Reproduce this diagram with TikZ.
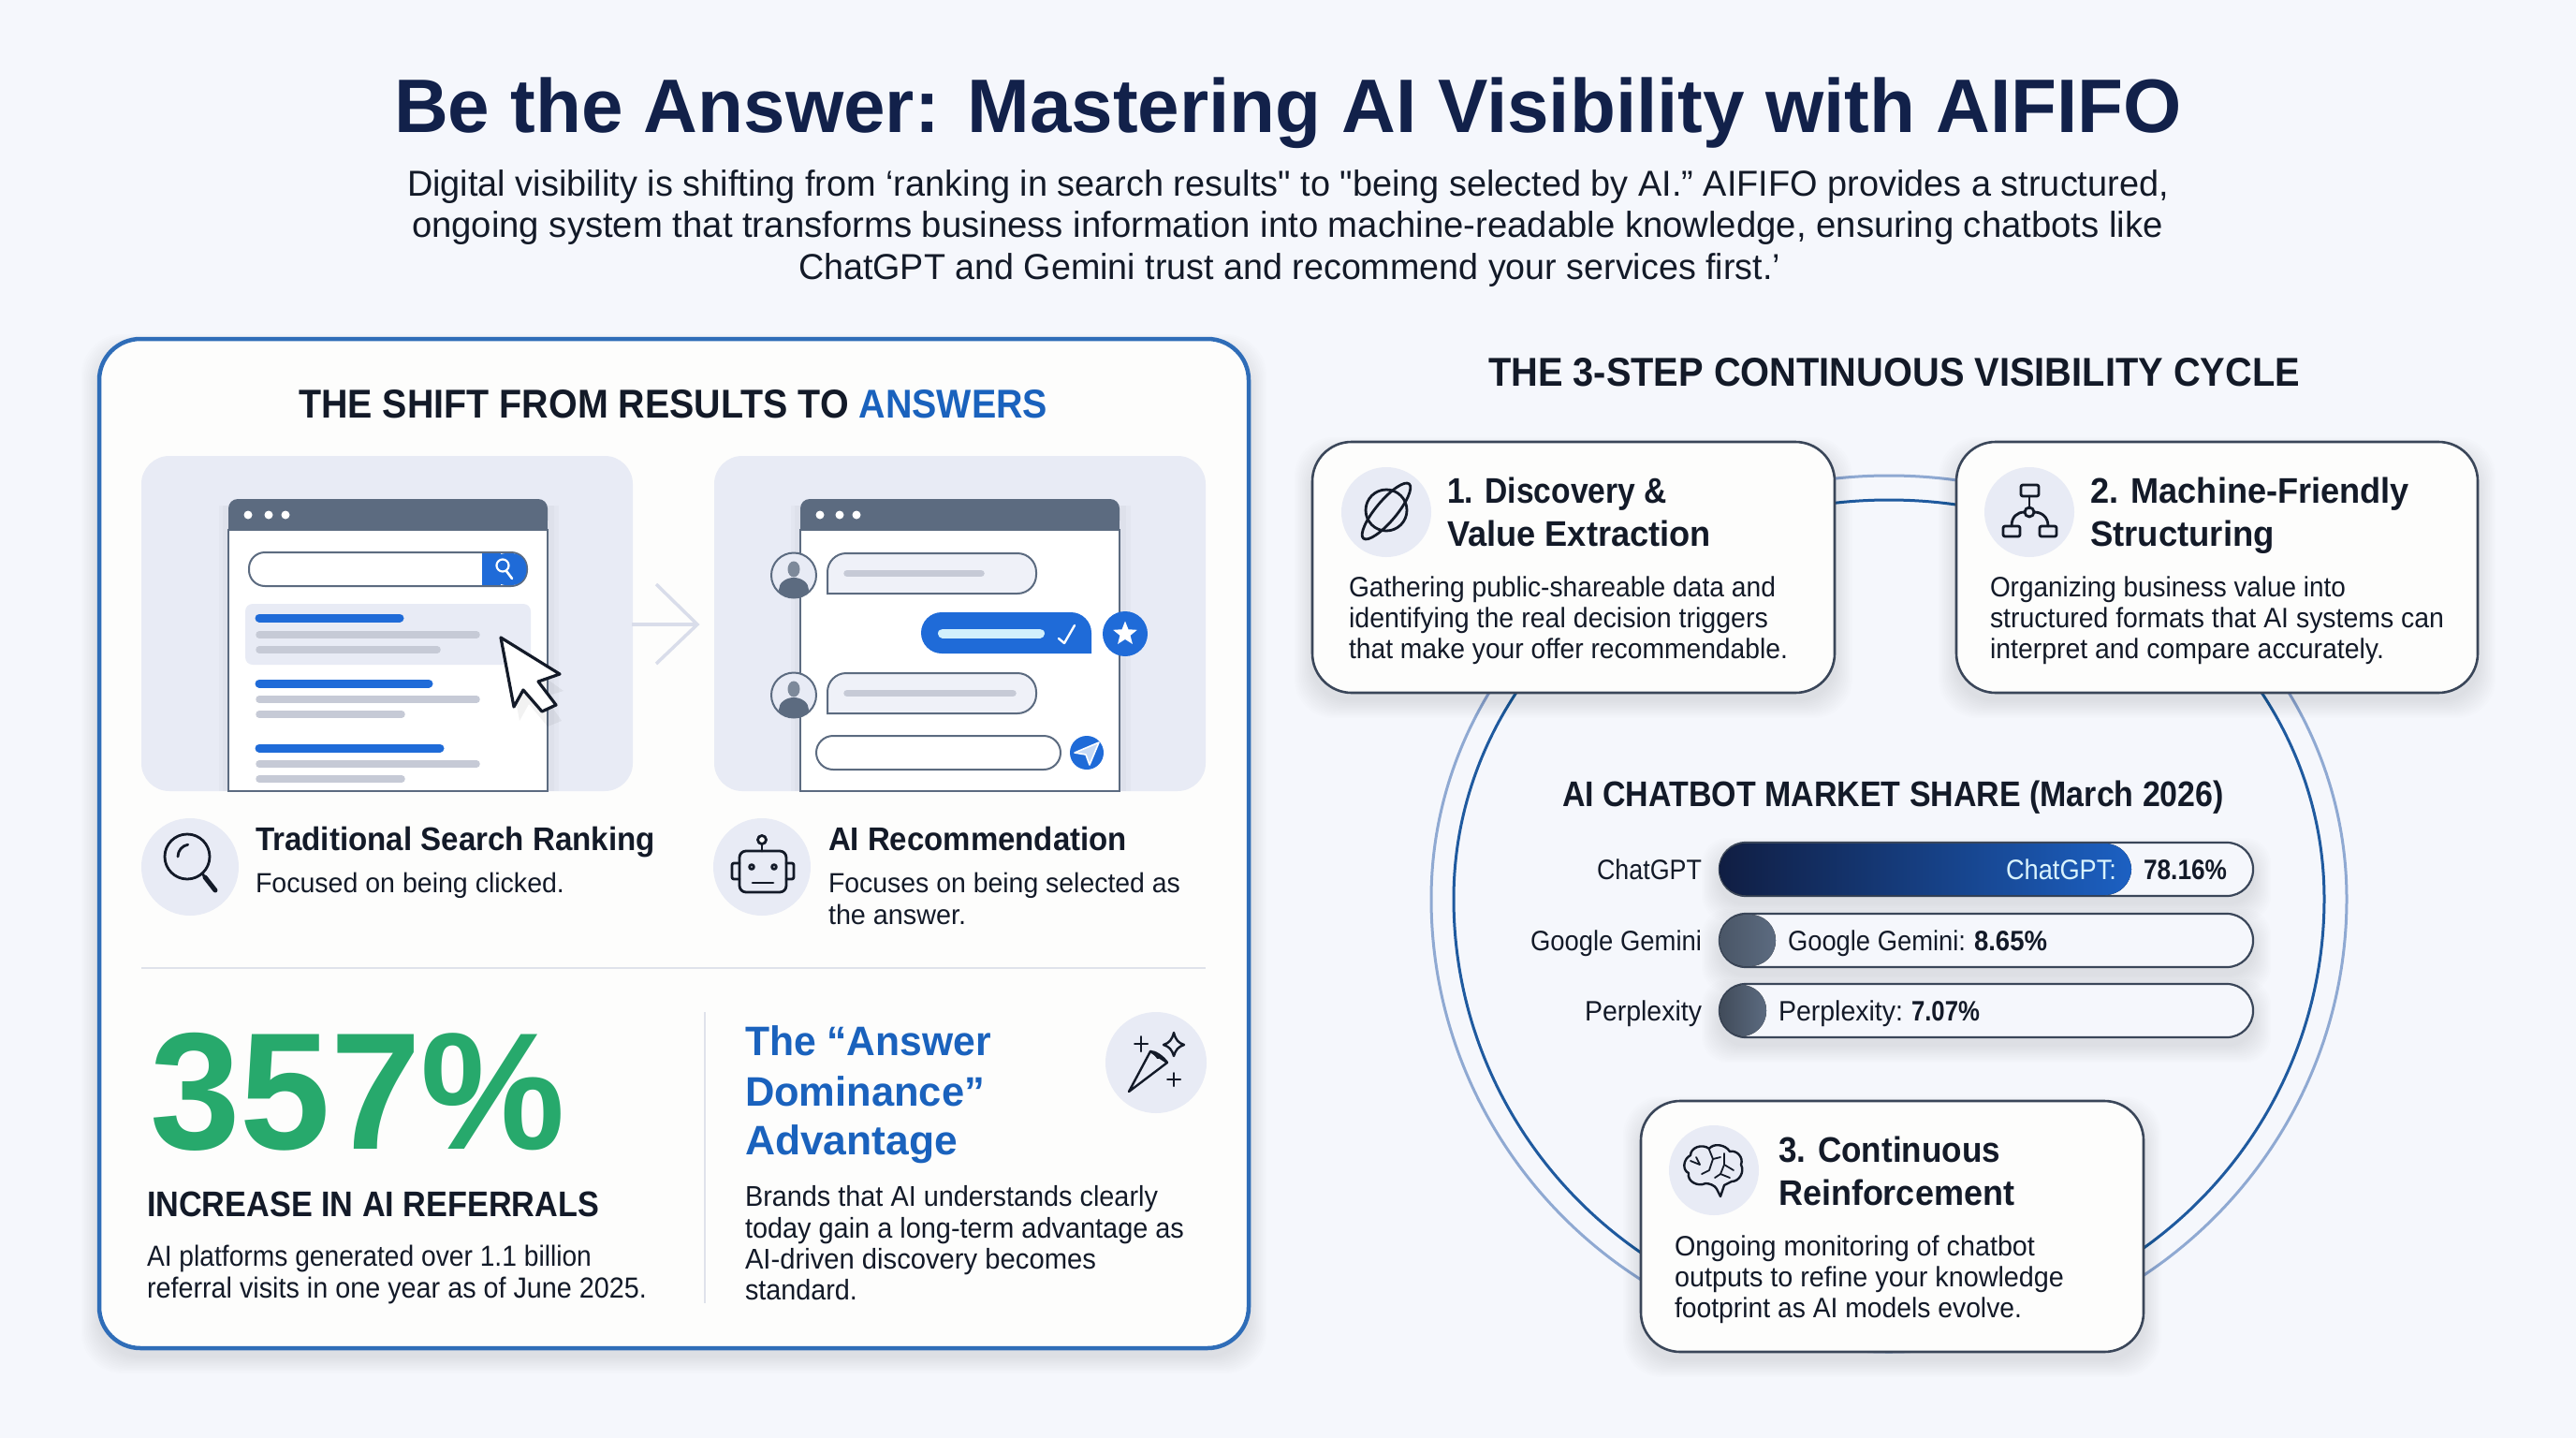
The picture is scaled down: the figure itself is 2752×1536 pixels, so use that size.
\documentclass[tikz,border=0pt]{standalone}
\usepackage{graphicx}
\usepackage{fontspec}
\setmainfont{Liberation Sans}
\newfontfamily\plainq{Liberation Sans}
\usetikzlibrary{shapes.geometric}
\definecolor{bgc}{HTML}{F5F7FC}
\definecolor{navy}{HTML}{12214A}
\definecolor{ink}{HTML}{131A28}
\definecolor{panelline}{HTML}{2F6DB8}
\definecolor{soft}{HTML}{E8EBF5}
\definecolor{slate}{HTML}{5C6B80}
\definecolor{graybar}{HTML}{C6CAD6}
\definecolor{blue}{HTML}{1F6BD8}
\definecolor{headblue}{HTML}{1A62BD}
\definecolor{green}{HTML}{27A96C}
\definecolor{cardline}{HTML}{3A4659}
\definecolor{cardfill}{HTML}{FDFDFC}
\definecolor{ringa}{HTML}{8FA9D2}
\definecolor{ringb}{HTML}{1F5A9F}
\definecolor{rule}{HTML}{DFE2EB}
\definecolor{arrowc}{HTML}{D9DDEA}
\newcommand{\tl}[7]{\node[anchor=base west,inner sep=0pt,outer sep=0pt,text=#1] (#2) at (#3,#4) {\fontsize{#5pt}{#5pt}\selectfont\resizebox{#6pt}{\height}{#7}};}
\newcommand{\softsh}[5]{\foreach \k in {1,2,...,12}{\fill[black,opacity=0.0065,rounded corners=#5pt] ({#1-\k*1.6},{#2+14-\k*1.6}) rectangle ({#3+\k*1.6},{#4+8+\k*1.6});}}
\tikzset{
  icon/.style={draw=ink,line width=2.8pt,line cap=round,line join=round},
  iconbg/.style={fill=soft},
  bbar/.style={line width=9pt,draw=blue,line cap=round},
  gbar/.style={line width=7.5pt,draw=graybar,line cap=round},
  cardbox/.style={fill=cardfill,draw=cardline,line width=2.6pt,rounded corners=42pt},
  barbox/.style={fill=bgc,draw=cardline,line width=2.2pt,rounded corners=28pt},
}
\begin{document}
\begin{tikzpicture}[x=1pt,y=-1pt]
\useasboundingbox (0,0) rectangle (2752,1536);
\fill[bgc] (0,0) rectangle (2752,1536);
% header
\tl{navy}{title}{421}{142}{81}{1910}{\bfseries Be the Answer: Mastering AI Visibility with AIFIFO}
\tl{ink}{subA}{435}{209}{38.5}{1882}{\plainq Digital visibility is shifting from ‘ranking in search results" to "being selected by AI.” AIFIFO provides a structured,}
\tl{ink}{subB}{440}{253}{38.5}{1871}{ongoing system that transforms business information into machine-readable knowledge, ensuring chatbots like}
\tl{ink}{subC}{853}{298}{38.5}{1049}{ChatGPT and Gemini trust and recommend your services first.’}
% left panel
\softsh{106}{362}{1334}{1440}{44}
\draw[fill=cardfill,draw=panelline,line width=4.5pt,rounded corners=44pt] (106,362) rectangle (1334,1440);
\node[anchor=base west,inner sep=0pt,text=ink] (shift) at (319,446) {\fontsize{43pt}{43pt}\selectfont\resizebox{800pt}{\height}{\bfseries THE SHIFT FROM RESULTS TO \textcolor{headblue}{ANSWERS}}};
\fill[soft,rounded corners=30pt] (151,487) rectangle (676,845);
\fill[soft,rounded corners=30pt] (763,487) rectangle (1288,845);
% arrow
\draw[arrowc,line width=3.5pt] (675,667) -- (745,667);
\draw[arrowc,line width=3.5pt] (701,624) -- (745,667) -- (701,709);
% left browser
\fill[black,opacity=.02] (234,540) rectangle (597,845);
\fill[black,opacity=.02] (238,540) rectangle (592,845);
\draw[fill=white,draw=slate,line width=2pt] (244,566) rectangle (585,845);
\fill[slate,rounded corners=10pt] (244,533) rectangle (585,566);
\fill[slate] (244,552) rectangle (585,566);
\foreach \x in {265,287,305}{\fill[white] (\x,550) circle[radius=4.5pt];}
\draw[fill=white,draw=slate,line width=2pt,rounded corners=17pt] (266,590) rectangle (563,626);
\fill[blue,rounded corners=16pt] (525,591) rectangle (562.5,625);
\fill[blue] (515,591) rectangle (535,625);
\draw[white,line width=2.2pt] (537,604) circle[radius=6.5pt];
\draw[white,line width=2.6pt,line cap=round] (541,610) -- (547,618);
\fill[soft,rounded corners=8pt] (262,645) rectangle (567,710);
\draw[bbar] (277,660) -- (427,660);
\draw[gbar] (277,678) -- (509,678);
\draw[gbar] (277,694) -- (467,694);
\draw[bbar] (277,730) -- (458,730);
\draw[gbar] (277,747) -- (509,747);
\draw[gbar] (277,763) -- (429,763);
\draw[bbar] (277,799) -- (470,799);
\draw[gbar] (277,816) -- (509,816);
\draw[gbar] (277,832) -- (429,832);
% cursor
\fill[black,opacity=.05] (541,694) -- (602,738) -- (582,744) -- (600,770) -- (585,776) -- (565,752) -- (555,770) -- cycle;
\draw[fill=white,draw=ink,line width=3.2pt,line join=round] (535,681) -- (598,720) -- (575,728) -- (594,753) -- (579,760) -- (559,737) -- (549,755) -- cycle;
% right browser
\fill[black,opacity=.02] (845,540) rectangle (1208,845);
\fill[black,opacity=.02] (849,540) rectangle (1203,845);
\draw[fill=white,draw=slate,line width=2pt] (855,566) rectangle (1196,845);
\fill[slate,rounded corners=10pt] (855,533) rectangle (1196,566);
\fill[slate] (855,552) rectangle (1196,566);
\foreach \x in {876,897,915}{\fill[white] (\x,550) circle[radius=4.5pt];}
% chat rows
\foreach \yy/\bw in {591/1052,719/1086}{
  \draw[fill=soft!70!white,draw=slate,line width=2pt] (884,\yy+43) [rounded corners=20pt] -- (884,\yy) -- (1107,\yy) -- (1107,\yy+43) [sharp corners] -- cycle;
  \draw[gbar] (905,\yy+21.5) -- (\bw-4,\yy+21.5);
  \begin{scope}
    \clip (848,\yy+23.5) circle[radius=24pt];
    \fill[soft] (848,\yy+23.5) circle[radius=24pt];
    \fill[slate!80] (848,\yy+17) ellipse[x radius=6.5pt,y radius=8.5pt];
    \fill[slate] (848,\yy+39) ellipse[x radius=16pt,y radius=13pt];
  \end{scope}
  \draw[slate,line width=2pt] (848,\yy+23.5) circle[radius=24pt];
}
% blue bubble
\fill[blue] (1166,698) [rounded corners=22pt] -- (984,698) -- (984,654) -- (1166,654) [sharp corners] -- cycle;
\draw[color=white!82!cyan,line width=10pt,line cap=round] (1007,676.5) -- (1111,676.5);
\draw[white,line width=2.4pt,line cap=round,line join=round] (1131,682) -- (1137,687) -- (1148,668);
\fill[blue] (1202,677) circle[radius=24pt];
\node[star,star points=5,star point ratio=2.3,fill=white,inner sep=0pt,minimum size=27pt] (starmark) at (1202,677) {};
\draw[fill=white,draw=slate,line width=2pt,rounded corners=18pt] (872,786) rectangle (1133,822);
\fill[blue] (1161,804) circle[radius=18pt];
\draw[fill=white!75!blue,draw=white,line width=1.6pt,line join=round] (1174,793) -- (1148,804) -- (1160,806) -- (1164,817) -- cycle;
% icons under screens
\fill[iconbg] (203,926) circle[radius=52pt];
\fill[iconbg] (814,926) circle[radius=52pt];
\draw[icon] (200,915) circle[radius=24pt];
\draw[icon] (216,933) -- (219,937);
\draw[icon,line width=5pt] (219,937) -- (230,951);
\draw[icon] (190,915) arc[start angle=180,end angle=100,radius=13pt];
\draw[icon] (814,909) -- (814,902);
\draw[icon,fill=cardfill] (814,897) circle[radius=4.5pt];
\draw[icon,rounded corners=7pt] (790,909) rectangle (840,953);
\draw[icon,rounded corners=2pt] (790,922) -- (782,922) -- (782,939) -- (790,939);
\draw[icon,rounded corners=2pt] (840,922) -- (848,922) -- (848,939) -- (840,939);
\draw[icon] (803,926) circle[radius=2.4pt];
\draw[icon] (827,926) circle[radius=2.4pt];
\draw[icon] (804,943) -- (826,943);
% captions
\tl{ink}{tradH}{273}{908}{35}{427}{\bfseries Traditional Search Ranking}
\tl{ink}{tradB}{273}{953}{29.5}{330}{Focused on being clicked.}
\tl{ink}{aiH}{885}{908}{35}{319}{\bfseries AI Recommendation}
\tl{ink}{aiB}{885}{953}{29.5}{376}{Focuses on being selected as}
\tl{ink}{aiC}{885}{987}{29.5}{147}{the answer.}
% rules
\draw[rule,line width=2.6pt] (151,1034) -- (1288,1034);
\draw[rule,line width=2pt] (753,1081) -- (753,1392);
% stat
\tl{green}{stat}{160}{1227}{178}{444}{\bfseries 357\%}
\tl{ink}{incr}{157}{1299}{38}{483}{\bfseries INCREASE IN AI REFERRALS}
\tl{ink}{pltA}{157}{1352}{31}{475}{AI platforms generated over 1.1 billion}
\tl{ink}{pltB}{157}{1386}{31}{534}{referral visits in one year as of June 2025.}
% answer
\tl{headblue}{ansA}{796}{1127}{44}{263}{\bfseries The “Answer}
\tl{headblue}{ansB}{796}{1181}{44}{256}{\bfseries Dominance”}
\tl{headblue}{ansC}{796}{1233}{44}{227}{\bfseries Advantage}
\fill[iconbg] (1235,1135) circle[radius=54pt];
\draw[icon,line width=2.4pt] (1206,1166) -- (1229,1123) -- (1247,1135) -- cycle;
\draw[icon,line width=2.4pt] (1233,1125) -- (1237,1130);
\draw[icon,line width=2.4pt] (1229,1123) .. controls (1234,1123) and (1242,1128) .. (1247,1135);
\draw[icon,line width=2.4pt] (1254,1103) .. controls (1256,1111) and (1259,1114) .. (1265,1116) .. controls (1259,1118) and (1256,1121) .. (1254,1128) .. controls (1252,1121) and (1249,1118) .. (1243,1116) .. controls (1249,1114) and (1252,1111) .. (1254,1103) -- cycle;
\draw[icon,line width=2pt] (1219,1107) -- (1219,1123) (1212,1115) -- (1226,1115);
\draw[icon,line width=2pt] (1254,1146) -- (1254,1160) (1247,1153) -- (1261,1153);
\tl{ink}{brA}{796}{1288}{30.5}{441}{Brands that AI understands clearly}
\tl{ink}{brB}{796}{1322}{30.5}{469}{today gain a long-term advantage as}
\tl{ink}{brC}{796}{1355}{30.5}{375}{AI-driven discovery becomes}
\tl{ink}{brD}{796}{1388}{30.5}{120}{standard.}
% right column
\tl{ink}{cycle}{1590}{412}{43}{867}{\bfseries THE 3-STEP CONTINUOUS VISIBILITY CYCLE}
\draw[ringa,line width=3pt] (1529,960) arc[start angle=180,end angle=0,x radius=489pt,y radius=452pt] arc[start angle=0,end angle=-180,x radius=489pt,y radius=484pt];
\draw[ringb,line width=3pt] (1553,960) arc[start angle=180,end angle=0,x radius=465pt,y radius=426pt] arc[start angle=0,end angle=-180,x radius=465pt,y radius=460pt];
% card 1
\softsh{1402}{472}{1960}{740}{42}
\draw[cardbox] (1402,472) rectangle (1960,740);
\fill[iconbg] (1481,547) circle[radius=48pt];
\draw[icon] (1481,545) circle[radius=22pt];
\draw[icon,rotate around={50:(1481,546)}] (1481,546) ellipse[x radius=38pt,y radius=11pt];
\tl{ink}{c1hA}{1546}{537}{38}{235}{\bfseries 1. Discovery \&}
\tl{ink}{c1hB}{1546}{583}{38}{282}{\bfseries Value Extraction}
\tl{ink}{c1bA}{1441}{637}{30}{456}{Gathering public-shareable data and}
\tl{ink}{c1bB}{1441}{670}{30}{448}{identifying the real decision triggers}
\tl{ink}{c1bC}{1441}{703}{30}{469}{that make your offer recommendable.}
% card 2
\softsh{2090}{472}{2647}{740}{42}
\draw[cardbox] (2090,472) rectangle (2647,740);
\fill[iconbg] (2168,547) circle[radius=48pt];
\draw[icon,rounded corners=2pt] (2159,518) rectangle (2178,530);
\draw[icon] (2168,530) -- (2168,543);
\draw[icon] (2168,547) circle[radius=5pt];
\draw[icon] (2163,547) .. controls (2155,547) and (2149,552) .. (2149,562);
\draw[icon] (2173,547) .. controls (2181,547) and (2188,552) .. (2188,562);
\draw[icon,rounded corners=2pt] (2140,562) rectangle (2158,573);
\draw[icon,rounded corners=2pt] (2179,562) rectangle (2197,573);
\tl{ink}{c2hA}{2233}{537}{38}{341}{\bfseries 2. Machine-Friendly}
\tl{ink}{c2hB}{2233}{583}{38}{197}{\bfseries Structuring}
\tl{ink}{c2bA}{2126}{637}{30}{380}{Organizing business value into}
\tl{ink}{c2bB}{2126}{670}{30}{485}{structured formats that AI systems can}
\tl{ink}{c2bC}{2126}{703}{30}{421}{interpret and compare accurately.}
% market
\tl{ink}{mkt}{1669}{861}{38}{707}{\bfseries AI CHATBOT MARKET SHARE (March 2026)}
\foreach \ya/\yb in {900/957,976/1033,1051/1108}{
  \softsh{1837}{\ya}{2407}{\yb}{28}
  \draw[barbox] (1837,\ya) rectangle (2407,\yb);
}
\fill[left color=navy!90!black,right color=blue!90!black,rounded corners=28pt] (1837,901) rectangle (2277,956);
\fill[left color=slate!80!black,right color=slate,rounded corners=27pt] (1837,977) rectangle (1897,1032);
\fill[left color=slate!70!black,right color=slate,rounded corners=27pt] (1837,1052) rectangle (1887,1107);
\tl{ink}{lbA}{1706}{939}{30}{112}{ChatGPT}
\tl{ink}{lbB}{1635}{1015}{30}{183}{Google Gemini}
\tl{ink}{lbC}{1693}{1090}{30}{125}{Perplexity}
\tl{white!85!cyan}{vA}{2143}{939}{30}{118}{ChatGPT:}
\tl{ink}{vAn}{2290}{939}{30}{89}{\bfseries 78.16\%}
\tl{ink}{vB}{1910}{1015}{30}{190}{Google Gemini:}
\tl{ink}{vBn}{2109}{1015}{30}{78}{\bfseries 8.65\%}
\tl{ink}{vC}{1900}{1090}{30}{133}{Perplexity:}
\tl{ink}{vCn}{2042}{1090}{30}{73}{\bfseries 7.07\%}
% card 3
\softsh{1753}{1176}{2290}{1444}{42}
\draw[cardbox] (1753,1176) rectangle (2290,1444);
\fill[iconbg] (1831,1250) circle[radius=48pt];
\draw[icon,line width=2.4pt] (1850,1262) .. controls (1858,1262) and (1864,1252) .. (1860,1244) .. controls (1863,1236) and (1855,1228) .. (1848,1230) .. controls (1843,1222) and (1830,1221) .. (1826,1227) .. controls (1818,1221) and (1806,1226) .. (1806,1234) .. controls (1798,1238) and (1797,1250) .. (1804,1253) .. controls (1802,1262) and (1814,1268) .. (1822,1264) .. controls (1826,1264) and (1832,1266) .. (1834,1270) -- (1838,1278) -- (1842,1266) -- (1850,1262);
\draw[icon,line width=1.8pt] (1826,1228) -- (1830,1238) -- (1826,1250) -- (1818,1254);
\draw[icon,line width=1.8pt] (1830,1238) -- (1838,1236) (1842,1232) -- (1842,1244) -- (1838,1254) -- (1832,1258);
\draw[icon,line width=1.8pt] (1842,1244) -- (1852,1250) (1806,1240) -- (1816,1244) -- (1812,1236) (1838,1254) -- (1848,1258);
\tl{ink}{c3hA}{1900}{1241}{38}{237}{\bfseries 3. Continuous}
\tl{ink}{c3hB}{1900}{1287}{38}{252}{\bfseries Reinforcement}
\tl{ink}{c3bA}{1789}{1341}{30}{385}{Ongoing monitoring of chatbot}
\tl{ink}{c3bB}{1789}{1374}{30}{416}{outputs to refine your knowledge}
\tl{ink}{c3bC}{1789}{1407}{30}{371}{footprint as AI models evolve.}
\end{tikzpicture}
\end{document}
